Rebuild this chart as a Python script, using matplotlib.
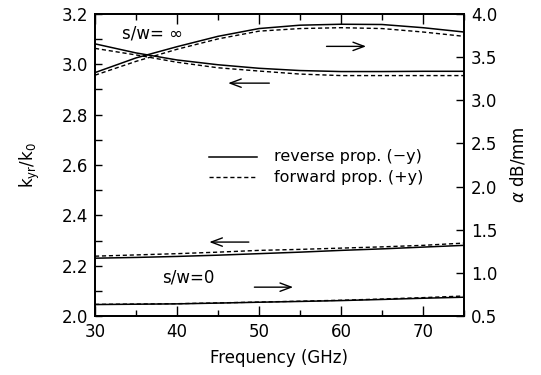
import matplotlib.pyplot as plt
from matplotlib.ticker import MultipleLocator
import numpy as np

plt.rcParams['font.family'] = ['DejaVu Sans']

# frequency samples (GHz)
freq = [30, 35, 40, 45, 50, 55, 60, 65, 70, 75]

# s/w = infinity, k_yr/k0 (left axis)
k_inf_rev = [3.081, 3.045, 3.017, 2.998, 2.984, 2.975, 2.971, 2.971, 2.972, 2.972]
k_inf_fwd = [3.063, 3.037, 3.008, 2.986, 2.973, 2.961, 2.955, 2.955, 2.955, 2.955]
# s/w = infinity, alpha dB/mm (right axis)
a_inf_rev = [3.32, 3.49, 3.62, 3.74, 3.83, 3.869, 3.88, 3.877, 3.84, 3.79]
a_inf_fwd = [3.29, 3.45, 3.59, 3.71, 3.80, 3.83, 3.84, 3.83, 3.79, 3.74]

# s/w = 0, k_yr/k0 (left axis)
k_0_rev = [2.230, 2.233, 2.237, 2.242, 2.248, 2.254, 2.261, 2.267, 2.274, 2.281]
k_0_fwd = [2.238, 2.243, 2.248, 2.254, 2.261, 2.265, 2.270, 2.275, 2.281, 2.290]
# s/w = 0, alpha dB/mm (right axis)
a_0_rev = [0.634, 0.638, 0.642, 0.651, 0.661, 0.670, 0.680, 0.693, 0.707, 0.719]
a_0_fwd = [0.636, 0.640, 0.644, 0.653, 0.663, 0.673, 0.684, 0.698, 0.714, 0.733]

fig = plt.figure(figsize=(5.41, 3.75), dpi=100)
ax = fig.add_axes([0.1756, 0.157, 0.682, 0.806])
ax2 = ax.twinx()

solid = dict(color='black', lw=1.1, ls='-')
dash = dict(color='black', lw=1.0, ls=(0, (3, 2)))

ax.plot(freq, k_inf_rev, **solid)
ax.plot(freq, k_inf_fwd, **dash)
ax.plot(freq, k_0_rev, **solid)
ax.plot(freq, k_0_fwd, **dash)
ax2.plot(freq, a_inf_rev, **solid)
ax2.plot(freq, a_inf_fwd, **dash)
ax2.plot(freq, a_0_rev, **solid)
ax2.plot(freq, a_0_fwd, **dash)

ax.set_xlim(30, 75)
ax.set_ylim(2.0, 3.2)
ax2.set_ylim(0.5, 4.0)

ax.xaxis.set_major_locator(MultipleLocator(10))
ax.xaxis.set_minor_locator(MultipleLocator(5))
ax.yaxis.set_major_locator(MultipleLocator(0.2))
ax.yaxis.set_minor_locator(MultipleLocator(0.1))
ax2.yaxis.set_major_locator(MultipleLocator(0.5))
ax.yaxis.set_major_formatter(plt.FormatStrFormatter('%.1f'))
ax2.yaxis.set_major_formatter(plt.FormatStrFormatter('%.1f'))

ax.tick_params(which='both', direction='in', top=True, labelsize=12, width=1, pad=5)
ax.tick_params(which='major', length=7)
ax.tick_params(which='minor', length=4)
ax.tick_params(axis='y', which='both', length=5)
ax2.tick_params(direction='in', length=6, labelsize=12, width=1, pad=5)

for a in (ax, ax2):
    for s in a.spines.values():
        s.set_linewidth(1.3)

ax.set_xlabel('Frequency (GHz)', fontsize=12, labelpad=6)
ax.set_ylabel(r'k$_{\rm yr}$/k$_{\rm 0}$', fontsize=12, labelpad=14)
ax2.set_ylabel(r'$\alpha$ dB/mm', fontsize=12, labelpad=8)

# legend drawn by hand like the original
ax.plot([43.9, 49.8], [2.632, 2.632], **solid)
ax.plot([43.9, 49.8], [2.552, 2.552], **dash)
ax.text(51.8, 2.632, 'reverse prop. (\u2212y)', fontsize=11.5, va='center')
ax.text(51.8, 2.552, 'forward prop. (+y)', fontsize=11.5, va='center')

ax.text(33.3, 3.124, 's/w= \u221e', fontsize=12, va='center')
ax.text(38.2, 2.155, 's/w=0', fontsize=12, va='center')

arrow = dict(arrowstyle='->,head_length=0.8,head_width=0.3', color='black', lw=1.0)
ax.annotate('', xy=(63.4, 3.071), xytext=(57.9, 3.071), arrowprops=arrow)
ax.annotate('', xy=(45.9, 2.925), xytext=(51.6, 2.925), arrowprops=arrow)
ax.annotate('', xy=(43.6, 2.294), xytext=(49.1, 2.294), arrowprops=arrow)
ax.annotate('', xy=(54.5, 2.115), xytext=(49.1, 2.115), arrowprops=arrow)

fig.savefig('out.png', dpi=100)
